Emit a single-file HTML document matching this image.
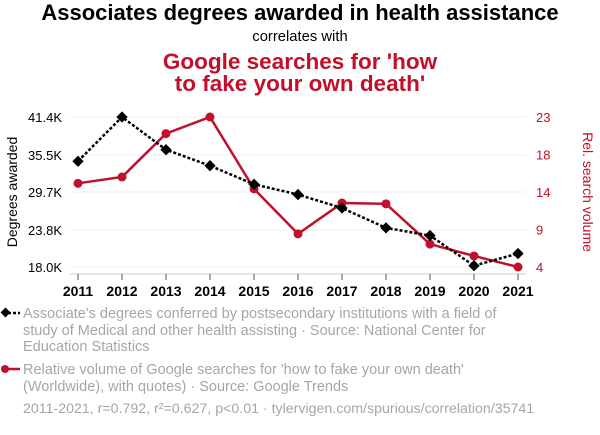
<!DOCTYPE html>
<html><head><meta charset="utf-8"><style>
body{margin:0;background:#fff;width:600px;height:430px;overflow:hidden;font-family:"Liberation Sans",Arial,sans-serif}
</style></head><body>
<svg id="c" width="600" height="430" xmlns="http://www.w3.org/2000/svg" font-family="Liberation Sans, Arial, sans-serif">
<text x="300" y="20" text-anchor="middle" font-size="22" font-weight="bold" fill="#000">Associates degrees awarded in health assistance</text>
<text x="300" y="41" text-anchor="middle" font-size="14.8" fill="#000">correlates with</text>
<text x="300" y="69" text-anchor="middle" font-size="22.5" font-weight="bold" fill="#c0102b">Google searches for 'how</text>
<text x="300" y="91" text-anchor="middle" font-size="22.5" font-weight="bold" fill="#c0102b">to fake your own death'</text>
<g id="grid"></g><g id="axes"></g><g id="series"></g>
<text transform="translate(17,192) rotate(-90)" text-anchor="middle" font-size="14" fill="#000">Degrees awarded</text>
<text transform="translate(583,192) rotate(90)" text-anchor="middle" font-size="14" fill="#c0102b">Rel. search volume</text>
<g>
<line x1="3" y1="313" x2="20" y2="313" stroke="#000" stroke-width="2.5" stroke-dasharray="3,2"/>
<rect x="2" y="309" width="7" height="7" transform="rotate(45 5.5 312.5)" fill="#000"/>
<text font-size="14.5" fill="#a6a6a6"><tspan x="23" y="318">Associate's degrees conferred by postsecondary institutions with a field of</tspan><tspan x="23" y="335">study of Medical and other health assisting · Source: National Center for</tspan><tspan x="23" y="351">Education Statistics</tspan></text>
</g>
<g>
<line x1="3" y1="369" x2="20" y2="369" stroke="#c0102b" stroke-width="2.5"/>
<circle cx="5" cy="369" r="4" fill="#c0102b"/>
<text font-size="14.5" fill="#a6a6a6"><tspan x="23" y="374">Relative volume of Google searches for 'how to fake your own death'</tspan><tspan x="23" y="391">(Worldwide), with quotes) · Source: Google Trends</tspan></text>
</g>
<text x="23" y="413" font-size="14.2" fill="#a6a6a6">2011-2021, r=0.792, r²=0.627, p&lt;0.01 · tylervigen.com/spurious/correlation/35741</text>
</svg>
<script>
const years=[2011,2012,2013,2014,2015,2016,2017,2018,2019,2020,2021];
const degrees=[34.5,41.4,36.3,33.8,30.9,29.3,27.2,24.1,22.9,18.2,20.1];
const searches=[14.6,15.4,20.9,23,13.9,8.2,12.1,12,6.9,5.4,4];
const leftTicks=[18.0,23.8,29.7,35.5,41.4];
const leftTickLabels=["18.0K","23.8K","29.7K","35.5K","41.4K"];
const rightTicks=[4,8.75,13.5,18.25,23];
const rightTickLabels=["4","9","14","18","23"];
const NS="http://www.w3.org/2000/svg";
const X0=78,X1=518,YT=117,YB=267;
const x=i=>X0+(X1-X0)*i/(years.length-1);
const yL=v=>YB-(v-18.0)/(41.4-18.0)*(YB-YT);
const yR=v=>YB-(v-4)/(23-4)*(YB-YT);
function mk(tag,attrs,parent){const e=document.createElementNS(NS,tag);for(const k in attrs)e.setAttribute(k,attrs[k]);parent.appendChild(e);return e;}
const grid=document.getElementById('grid'),axes=document.getElementById('axes'),ser=document.getElementById('series');
leftTicks.forEach((t,i)=>{
 const g=mk('line',{x1:70,x2:526,y1:yL(t),y2:yL(t),stroke:'#f0f0f0','stroke-width':1},grid);
 
 
 const l=mk('text',{x:62,y:yL(t)+5,'text-anchor':'end','font-size':13,fill:'#000'},axes);l.textContent=leftTickLabels[i];
 
 
});
rightTicks.forEach((t,i)=>{
 const l=mk('text',{x:536,y:yR(t)+5,'font-size':13,fill:'#c0102b'},axes);l.textContent=rightTickLabels[i];
 
 
});
const ax=mk('line',{x1:70,x2:526,y1:274,y2:274,stroke:'#ccc','stroke-width':1},axes);


years.forEach((yr,i)=>{
 mk('line',{x1:x(i),x2:x(i),y1:274,y2:280,stroke:'#555','stroke-width':1},axes);
 const l=mk('text',{x:x(i),y:296,'text-anchor':'middle','font-size':14,'font-weight':'bold',fill:'#000'},axes);l.textContent=yr;
 
 
});
const rp=mk('polyline',{points:searches.map((v,i)=>x(i)+','+yR(v)).join(' '),fill:'none',stroke:'#c0102b','stroke-width':2.5},ser);


const bp=mk('polyline',{points:degrees.map((v,i)=>x(i)+','+yL(v)).join(' '),fill:'none',stroke:'#000','stroke-width':2.5,'stroke-dasharray':'3,2'},ser);


searches.forEach((v,i)=>{
 const c=mk('circle',{cx:x(i),cy:yR(v),r:4.5,fill:'#c0102b'},ser);
 
 
});
degrees.forEach((v,i)=>{
 const r=mk('rect',{x:x(i)-4,y:yL(v)-4,width:8,height:8,fill:'#000',transform:`rotate(45 ${x(i)} ${yL(v)})`},ser);
 
 
});
</script>
</body></html>
